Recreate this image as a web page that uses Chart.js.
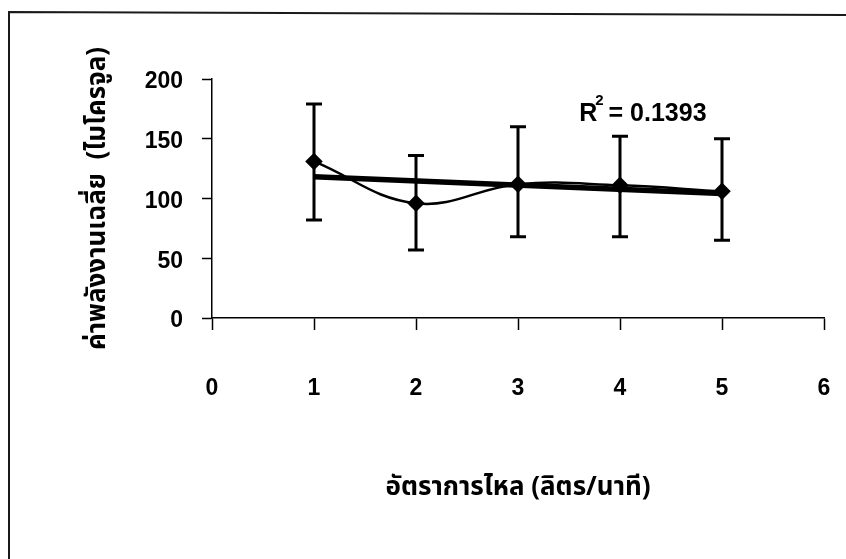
<!DOCTYPE html>
<html>
<head>
<meta charset="utf-8">
<script src="https://cdn.jsdelivr.net/npm/chart.js@4.4.1/dist/chart.umd.min.js"></script>
<style>
html, body { margin: 0; padding: 0; background: #fff; }
#wrap { width: 846px; height: 559px; }
</style>
</head>
<body>
<div id="wrap"><canvas id="myCanvas" width="846" height="559"></canvas></div>
<script>
'use strict';

// flow rate (L/min) vs mean energy (microjoule), with spread at each rate
var flowRates   = [1, 2, 3, 4, 5];
var meanEnergy  = [131, 96, 112, 111, 106];
var upperEnergy = [179, 136, 160, 152, 150];
var lowerEnergy = [82, 57, 68, 68, 65];
var xTicks = [0, 1, 2, 3, 4, 5, 6];
var yTicks = [0, 50, 100, 150, 200];
var rSquared = '0.1393';

var thaiFont = "'Noto Sans Thai', 'Noto Sans Thai UI', 'Noto Sans', 'DejaVu Sans', sans-serif";
var numFont = "'Liberation Sans', Arial, sans-serif";

// least squares line through the means
function linearFit(xs, ys) {
    var n = xs.length, sx = 0, sy = 0, sxx = 0, sxy = 0;
    for (var i = 0; i < n; i++) {
        sx += xs[i]; sy += ys[i];
        sxx += xs[i] * xs[i]; sxy += xs[i] * ys[i];
    }
    var slope = (n * sxy - sx * sy) / (n * sxx - sx * sx);
    var icept = (sy - slope * sx) / n;
    return function (x) { return icept + slope * x; };
}
var fit = linearFit(flowRates, meanEnergy);
var xFirst = flowRates[0], xLast = flowRates[flowRates.length - 1];

// page frame (left and top edge of the printed box)
var framePlugin = {
    id: 'frame',
    beforeDraw: function (chart) {
        var ctx = chart.ctx;
        ctx.save();
        ctx.fillStyle = '#fff';
        ctx.fillRect(0, 0, chart.width, chart.height);
        ctx.strokeStyle = '#1a1a1a';
        ctx.lineWidth = 2;
        ctx.beginPath();
        ctx.moveTo(9, chart.height);
        ctx.lineTo(9, 12);
        ctx.lineTo(chart.width, 15);
        ctx.stroke();
        ctx.restore();
    }
};

// vertical error bars with caps
var errorBarPlugin = {
    id: 'errorBars',
    beforeDatasetsDraw: function (chart) {
        var ctx = chart.ctx, sx = chart.scales.x, sy = chart.scales.y;
        ctx.save();
        ctx.strokeStyle = '#000';
        ctx.lineWidth = 3;
        flowRates.forEach(function (f, i) {
            var px = sx.getPixelForValue(f);
            var top = sy.getPixelForValue(upperEnergy[i]);
            var bot = sy.getPixelForValue(lowerEnergy[i]);
            ctx.beginPath();
            ctx.moveTo(px, top); ctx.lineTo(px, bot);
            ctx.moveTo(px - 8, top); ctx.lineTo(px + 8, top);
            ctx.moveTo(px - 8, bot); ctx.lineTo(px + 8, bot);
            ctx.stroke();
        });
        ctx.restore();
    }
};

// R^2 note next to the trend line
var rsqPlugin = {
    id: 'rsq',
    afterDatasetsDraw: function (chart, args, opts) {
        var ctx = chart.ctx;
        var x = chart.scales.x.getPixelForValue(opts.at[0]);
        var y = chart.scales.y.getPixelForValue(opts.at[1]);
        ctx.save();
        ctx.fillStyle = '#000';
        ctx.textBaseline = 'alphabetic';
        ctx.textAlign = 'left';
        ctx.font = 'bold 25px ' + numFont;
        ctx.fillText('R', x, y);
        var w = ctx.measureText('R').width;
        ctx.font = 'bold 15px ' + numFont;
        ctx.fillText('2', x + w - 2, y - 16);
        var w2 = ctx.measureText('2').width;
        ctx.font = 'bold 25px ' + numFont;
        ctx.fillText(' = ' + rSquared, x + w + w2 - 4, y);
        ctx.restore();
    }
};

var ctx = document.getElementById('myCanvas').getContext('2d');
var myChart = new Chart(ctx, {
    type: 'line',
    data: {
        datasets: [
            {
                label: 'mean',
                data: flowRates.map(function (f, i) { return { x: f, y: meanEnergy[i] }; }),
                borderColor: '#000',
                backgroundColor: '#000',
                borderWidth: 2.5,
                tension: 0.4,
                pointStyle: 'rectRot',
                pointRadius: 7,
                pointBackgroundColor: '#000',
                pointBorderColor: '#000',
                fill: false
            },
            {
                label: 'trend',
                data: [{ x: xFirst, y: fit(xFirst) }, { x: xLast, y: fit(xLast) }],
                borderColor: '#000',
                borderWidth: 5.5,
                pointRadius: 0,
                tension: 0,
                fill: false
            }
        ]
    },
    options: {
        responsive: false,
        animation: false,
        devicePixelRatio: 1,
        layout: { padding: { left: 0, top: 79, right: 22, bottom: 0 } },
        plugins: {
            legend: { display: false },
            tooltip: { enabled: false },
            rsq: { at: [3.6, 165] }
        },
        scales: {
            x: {
                type: 'linear',
                min: 0,
                max: 6,
                afterBuildTicks: function (scale) {
                    scale.ticks = xTicks.map(function (v) { return { value: v }; });
                },
                afterFit: function (scale) {
                    scale.height = 241;
                    // the big label gap should not eat into the plot width
                    scale.paddingLeft = 8;
                    scale.paddingRight = 8;
                },
                grid: { drawOnChartArea: false, tickLength: 12, tickWidth: 1.5, color: '#000' },
                border: { display: true, color: '#000', width: 1.5 },
                ticks: {
                    padding: 45,
                    color: '#000',
                    maxRotation: 0,
                    font: { family: numFont, size: 23, weight: 'bold' }
                },
                title: {
                    display: true,
                    text: 'อัตราการไหล (ลิตร/นาที)',
                    color: '#000',
                    padding: { top: 0, bottom: 54 },
                    font: { family: thaiFont, size: 26, weight: 'bold' }
                }
            },
            y: {
                min: 0,
                max: 200,
                afterBuildTicks: function (scale) {
                    scale.ticks = yTicks.map(function (v) { return { value: v }; });
                },
                afterFit: function (scale) { scale.width = 212; },
                grid: { drawOnChartArea: false, tickLength: 10, tickWidth: 1.5, color: '#000' },
                border: { display: true, color: '#000', width: 1.5 },
                ticks: {
                    padding: 19,
                    labelOffset: 3,
                    color: '#000',
                    font: { family: numFont, size: 23, weight: 'bold' }
                },
                title: {
                    display: true,
                    text: 'ค่าพลังงานเฉลี่ย  (ไมโครจูล)',
                    color: '#000',
                    padding: { top: 84, bottom: 0 },
                    font: { family: thaiFont, size: 26, weight: 'bold' }
                }
            }
        }
    },
    plugins: [framePlugin, errorBarPlugin, rsqPlugin]
});
</script>
</body>
</html>
